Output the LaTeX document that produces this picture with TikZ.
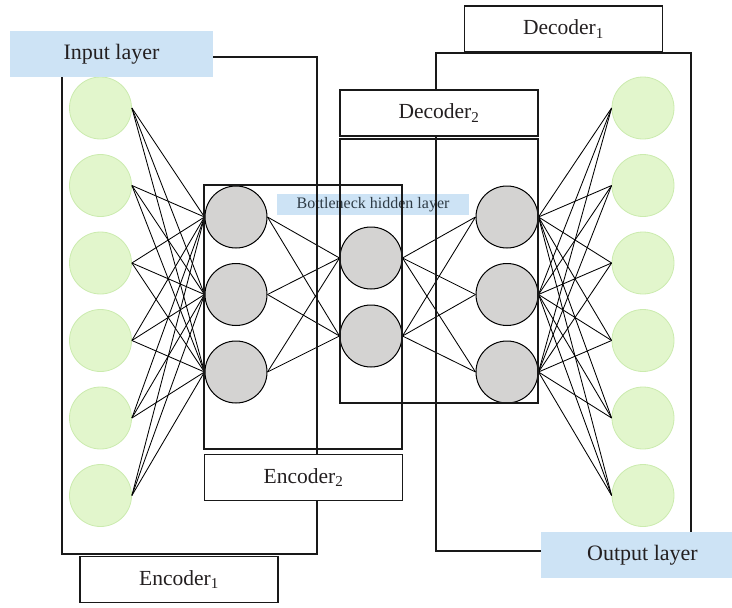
\documentclass[tikz,border=0pt]{standalone}
\usepackage{fontspec}
\setmainfont{Liberation Serif}
\definecolor{lblblue}{HTML}{CDE3F5}
\definecolor{ngreen}{HTML}{E2F6CC}
\definecolor{ngreenline}{HTML}{CBEBAE}
\definecolor{ngrey}{HTML}{D4D3D2}
\definecolor{txt}{HTML}{231F20}
\definecolor{txtb}{HTML}{2E3B45}
\begin{document}
\begin{tikzpicture}[x=1pt,y=-1pt,
  frame/.style={draw=black!90, line width=1.2pt, inner sep=0pt},
  tag/.style={draw=black!90, line width=1.2pt, fill=white, minimum width=198pt, minimum height=46pt, inner sep=0pt, text=txt, font=\fontsize{21.5}{24}\selectfont},
  layertag/.style={fill=lblblue, minimum width=203pt, minimum height=46pt, inner sep=0pt, text=txt, font=\fontsize{22}{24}\selectfont},
  inneuron/.style={circle, fill=ngreen, draw=ngreenline, line width=0.8pt, minimum size=62pt, inner sep=0pt},
  hidneuron/.style={circle, fill=ngrey, draw=black, line width=1pt, minimum size=62pt, inner sep=0pt},
  link/.style={draw=black, line width=0.85pt}]
\useasboundingbox (0,0) rectangle (732,608);

% bottleneck label (behind lines)
\node[fill=lblblue, minimum width=192pt, minimum height=21pt, inner sep=0pt, text=txtb, font=\fontsize{16}{18}\selectfont] (bneck) at (373,204.5) {Bottleneck hidden layer};

% neuron coordinates
\foreach \i/\y in {1/108,2/185.5,3/263,4/340.5,5/418,6/495.5}{
  \coordinate (pin\i) at (100.5,\y);
  \coordinate (pout\i) at (643,\y);
}
\foreach \j/\y in {1/217,2/294.5,3/372}{
  \coordinate (ph\j) at (236,\y);
  \coordinate (pd\j) at (507,\y);
}
\coordinate (pb1) at (371,258);
\coordinate (pb2) at (371,336);

% neurons
\foreach \i in {1,...,6}{
  \node[inneuron] (in\i) at (pin\i) {};
  \node[inneuron] (out\i) at (pout\i) {};
}
\foreach \j in {1,2,3}{
  \node[hidneuron] (h\j) at (ph\j) {};
  \node[hidneuron] (d\j) at (pd\j) {};
}
\node[hidneuron] (b1) at (pb1) {};
\node[hidneuron] (b2) at (pb2) {};

% links
\foreach \i in {1,...,6}{\foreach \j in {1,2,3}{
  \draw[link] (in\i.east) -- (h\j.west);
  \draw[link] (d\j.east) -- (out\i.west);
}}
\foreach \j in {1,2,3}{\foreach \k in {1,2}{
  \draw[link] (h\j.east) -- (b\k.west);
  \draw[link] (b\k.east) -- (d\j.west);
}}

% big frames
\node[frame, minimum width=255pt, minimum height=497pt] (enc1box) at (189.5,305.5) {};
\node[frame, minimum width=198pt, minimum height=264pt] (enc2box) at (303,317) {};
\node[frame, minimum width=255pt, minimum height=498pt] (dec1box) at (563.5,302) {};
\node[frame, minimum width=198pt, minimum height=264pt] (dec2box) at (439,271) {};

% tags
\node[tag] (enc1) at (179,579.5) {Encoder\textsubscript{1}};
\node[tag] (enc2) at (303.5,477.5) {Encoder\textsubscript{2}};
\node[tag] (dec1) at (563.5,29) {Decoder\textsubscript{1}};
\node[tag] (dec2) at (439,113) {Decoder\textsubscript{2}};
\node[layertag] (inlab) at (111.5,54) {Input layer};
\node[layertag] (outlab) at (642.5,555) {Output layer};
\end{tikzpicture}
\end{document}
